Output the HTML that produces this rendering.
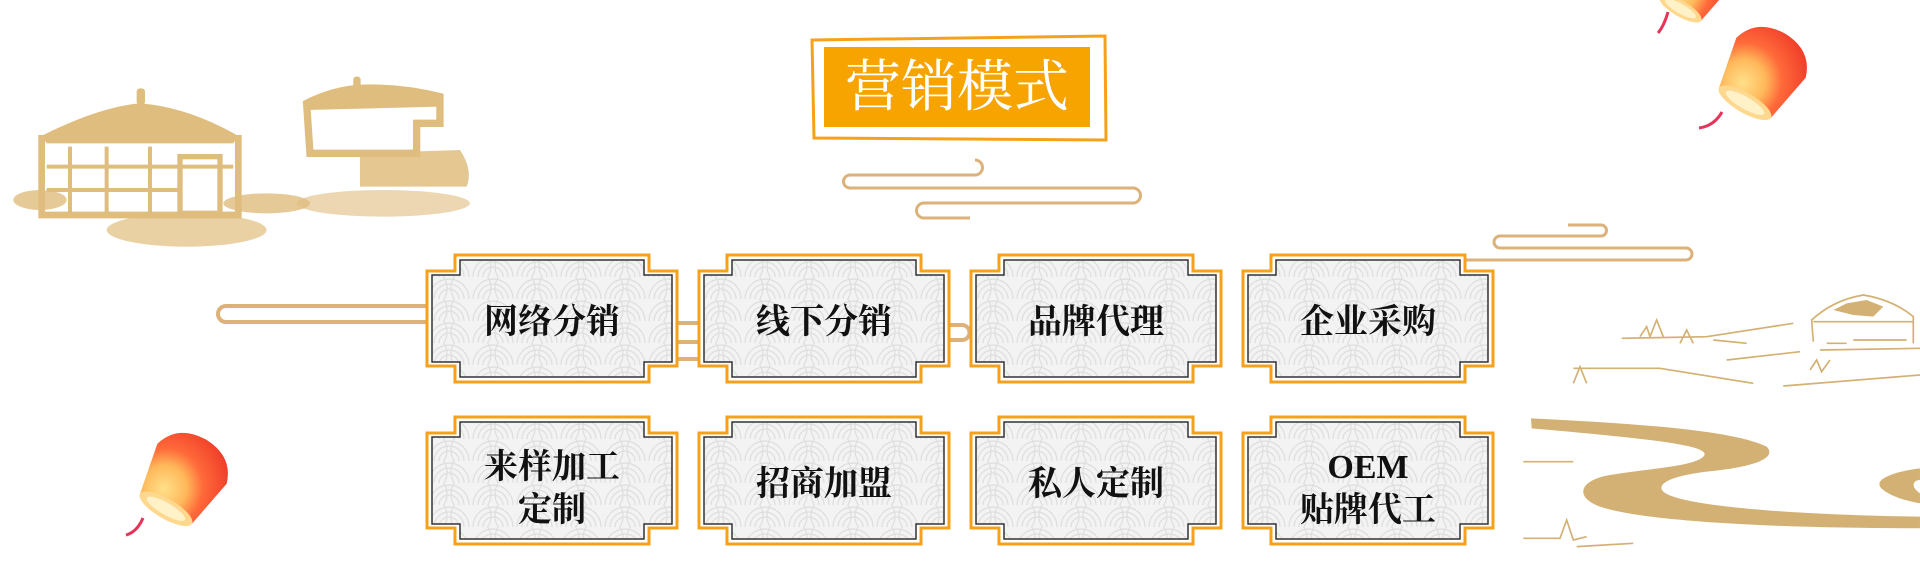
<!DOCTYPE html>
<html><head><meta charset="utf-8"><style>
html,body{margin:0;padding:0;background:#fff;}
svg{display:block;}
.t{font-family:"Liberation Serif","Noto Serif CJK SC",serif;font-weight:700;font-size:34px;fill:#111;text-anchor:middle;}
</style></head><body>
<svg width="1920" height="573" viewBox="0 0 1920 573" xmlns="http://www.w3.org/2000/svg">
<defs>
<pattern id="wv" width="44" height="22" patternUnits="userSpaceOnUse">
<rect width="44" height="22" fill="#f3f3f3"/>
<g fill="none" stroke="#dedede" stroke-width="1.2">
<circle cx="22" cy="22" r="20"/><circle cx="22" cy="22" r="15"/><circle cx="22" cy="22" r="10"/>
<circle cx="0" cy="11" r="20"/><circle cx="44" cy="11" r="20"/>
</g>
</pattern>
<g id="box">
<polygon points="28,0 222,0 222,16 250,16 250,111 222,111 222,127 28,127 28,111 0,111 0,16 28,16" fill="#fff" stroke="#f7a11a" stroke-width="3"/>
<polygon points="33,5 217,5 217,20 245,20 245,107 217,107 217,122 33,122 33,107 5,107 5,20 33,20" fill="url(#wv)" stroke="#333" stroke-width="1.5"/>
</g>
<radialGradient id="lg" cx="0.35" cy="0.75" r="0.8">
<stop offset="0" stop-color="#ffe08a"/><stop offset="0.35" stop-color="#ffb85a"/><stop offset="0.6" stop-color="#ff6a3a"/><stop offset="1" stop-color="#f0402a"/>
</radialGradient>
<g id="lant">
<path d="M-40,-28 Q-32,-55 0,-56 Q32,-55 40,-28 L30,24 Q0,34 -30,24 Z" fill="url(#lg)"/>
<ellipse cx="0" cy="24" rx="30" ry="10" fill="#ffd890"/>
<ellipse cx="0" cy="24" rx="22" ry="6" fill="#fff1c8"/>
</g>
</defs>

<!-- left yurts -->
<g transform="translate(0,60) scale(0.3333)" fill="#dfbd7e">
<path d="M130,225 Q300,140 420,130 Q560,140 710,225 L700,250 L140,250 Z"/>
<rect x="410" y="85" width="25" height="50" rx="10"/>
<path d="M125,235 L715,235 L715,465 L125,465 Z" fill="none" stroke="#dfbd7e" stroke-width="20"/>
<path d="M140,320 L700,320 M140,390 L540,390 M210,260 L210,460 M320,260 L320,460 M450,260 L450,460" stroke="#dfbd7e" stroke-width="12"/>
<rect x="540" y="290" width="120" height="170" fill="none" stroke="#dfbd7e" stroke-width="16"/>
<ellipse cx="120" cy="420" rx="80" ry="30" opacity="0.8"/>
<ellipse cx="560" cy="510" rx="240" ry="50" opacity="0.7"/>
<ellipse cx="800" cy="430" rx="130" ry="30" opacity="0.8"/>
<ellipse cx="1150" cy="430" rx="260" ry="40" opacity="0.6"/>
<path d="M920,130 Q1000,90 1080,85 Q1200,80 1320,110 L1320,190 L1250,190 L1250,280 L930,280 Z" fill="none" stroke="#dfbd7e" stroke-width="22"/>
<path d="M920,130 Q1000,90 1080,85 Q1200,80 1320,110 L1320,140 L920,150 Z"/>
<rect x="1060" y="50" width="22" height="40" rx="8"/>
<path d="M1080,280 L1380,270 Q1420,330 1400,380 L1080,380 Z" opacity="0.85"/>
</g>

<!-- connector lines -->
<g fill="none" stroke="#dcb27a" stroke-width="4">
<path d="M430,306 L226,306 A8,8 0 0 0 226,322 L430,322"/>
<path d="M677,323 L700,323 M677,342 L700,342 M677,359 L700,359"/>
<path d="M948,325 L962,325 A7.5,7.5 0 0 1 962,340 L948,340"/>
</g>

<!-- title -->
<g>
<path d="M812,40 L1105,36 L1106,140 L814,138 Z" fill="none" stroke="#f7a11a" stroke-width="3"/>
<rect x="824" y="47" width="266" height="80" fill="#f7a400"/>
<text x="957" y="106" style="font-family:'Liberation Serif','Noto Serif CJK SC',serif;font-size:56px;fill:#fff;text-anchor:middle;">营销模式</text>
</g>

<!-- clouds -->
<g fill="none" stroke="#dcb27a" stroke-width="3">
<path d="M975,160 A7.5,7.5 0 0 1 975,175 L850,175 A6.5,6.5 0 0 0 850,188 L1133,188 A7.5,7.5 0 0 1 1133,203 L924,203 A7.5,7.5 0 0 0 924,218 L970,218"/>
<path d="M1568,225 L1601,225 A5.5,5.5 0 0 1 1601,236 L1500,236 A6,6 0 0 0 1500,248 L1686,248 A6,6 0 0 1 1686,260 L1390,260"/>
</g>

<!-- boxes -->
<use href="#box" x="427" y="255"/>
<use href="#box" x="699" y="255"/>
<use href="#box" x="971" y="255"/>
<use href="#box" x="1243" y="255"/>
<use href="#box" x="427" y="417"/>
<use href="#box" x="699" y="417"/>
<use href="#box" x="971" y="417"/>
<use href="#box" x="1243" y="417"/>

<text class="t" x="552" y="333">网络分销</text>
<text class="t" x="824" y="333">线下分销</text>
<text class="t" x="1096" y="333">品牌代理</text>
<text class="t" x="1368" y="333">企业采购</text>
<text class="t" x="552" y="478">来样加工</text>
<text class="t" x="552" y="521">定制</text>
<text class="t" x="824" y="495">招商加盟</text>
<text class="t" x="1096" y="495">私人定制</text>
<text class="t" x="1368" y="478">OEM</text>
<text class="t" x="1368" y="521">贴牌代工</text>

<!-- right landscape -->
<g transform="translate(1500,280) scale(0.3333)">
<path d="M93,415 C400,430 700,450 800,500 C830,530 780,560 620,575 C500,590 470,615 490,635 C540,680 900,705 1260,710 L1260,745 C900,745 450,730 300,680 C220,650 240,600 330,585 C450,565 580,560 610,530 C640,500 500,480 95,445 Z" fill="#d3b073"/>
<path d="M1260,565 C1180,575 1110,600 1150,630 C1190,660 1260,670 1260,670 L1260,640 C1230,620 1240,600 1260,600 Z" fill="#d3b073"/>
<g fill="none" stroke="#d3b073" stroke-width="5">
<path d="M365,175 L620,170 L880,130 M640,180 L740,190 M220,265 L480,265 L760,310 M680,240 L900,215 M850,318 L1260,285 M960,210 L1260,205"/>
<path d="M940,185 L935,120 Q1000,60 1090,45 Q1180,60 1240,110 L1240,190 M940,125 L1240,125 M980,190 L1040,190 M1060,180 L1220,180"/>
<path d="M420,170 L440,140 L450,170 L470,120 L490,170 M540,190 L560,150 L580,190 M930,270 L950,240 L965,275 L990,240 M220,310 L240,260 L260,310 M70,545 L220,545 M70,775 L180,775 L200,720 L220,780 L260,770 M230,800 L400,790"/>
</g>
<path d="M1000,90 L1040,70 L1100,60 L1150,80 L1120,110 L1060,105 Z" fill="#d3b073"/>
</g>

<!-- lanterns -->
<use href="#lant" transform="translate(1757,82) rotate(30)"/>
<path d="M1722,112 Q1714,126 1699,128" stroke="#e8335a" stroke-width="3" fill="none"/>
<use href="#lant" transform="translate(1690,-8) rotate(30) scale(0.8)"/>
<path d="M1668,12 Q1664,26 1658,33" stroke="#e8335a" stroke-width="3" fill="none"/>
<use href="#lant" transform="translate(178,488) rotate(30)"/>
<path d="M143,518 Q137,532 126,535" stroke="#e8335a" stroke-width="3" fill="none"/>
</svg>
</body></html>
